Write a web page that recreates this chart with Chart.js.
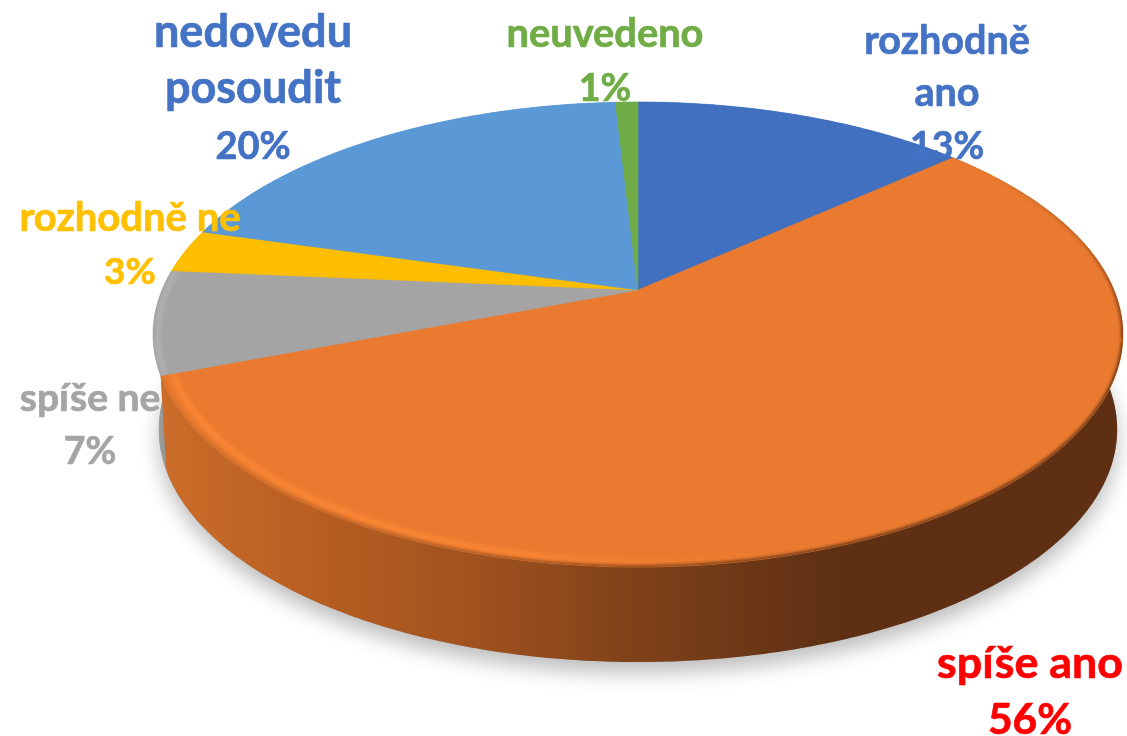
<!DOCTYPE html>
<html>
<head>
<meta charset="utf-8">
<style>html,body{margin:0;padding:0;background:#fff;overflow:hidden}canvas{display:block}</style>
<script src="https://cdn.jsdelivr.net/npm/chart.js@4"></script>
</head>
<body>
<canvas id="c" width="1127" height="736"></canvas>
<script>
const categories = ["rozhodně ano", "spíše ano", "spíše ne", "rozhodně ne", "nedovedu posoudit", "neuvedeno"];
const shares = [13.4, 55.8, 7.2, 3.0, 19.7, 0.9];
const sliceColors = ["#4170c0", "#ea7a2f", "#a4a4a4", "#fdbe00", "#5a99d5", "#6fab46"];

// label layout: wrapped lines, centre x, first baseline, line step, font sizes, colour
const labelLayout = [
  {lines:["rozhodně","ano"], x:947, y:53.5, step:52.5, size:39.6, pct:37.5, color:"#4472c4"},
  {lines:["spíše ano"], x:1030, y:678, step:56, size:44.8, pct:42.5, color:"#ff0000"},
  {lines:["spíše ne"], x:90, y:410.5, step:53, size:39, pct:37.5, color:"#a5a5a5"},
  {lines:["rozhodně ne"], x:130, y:231, step:53, size:40, pct:37, color:"#ffc000"},
  {lines:["nedovedu","posoudit"], x:253, y:47, step:56, size:45, pct:38, color:"#4472c4"},
  {lines:["neuvedeno"], x:605, y:47, step:53.5, size:39.8, pct:37.5, color:"#70ad47"}
];

// perspective disc geometry
const geo = {ax:638, ay:290, A:476, B:224, p:0.1914, depth:95, shrink:0.988, ecy:335};
function project(angle){
  const t = angle + Math.PI/2, u = Math.sin(t), v = -Math.cos(t), w = 1 - geo.p*v;
  return {x:geo.ax + geo.A*u/w, y:geo.ay + geo.B*v/w};
}
function rimPoints(a0, a1){
  const n = Math.max(4, Math.ceil((a1-a0)/(Math.PI/360))), pts = [];
  for(let i=0;i<=n;i++) pts.push(project(a0+(a1-a0)*i/n));
  return pts;
}
const down = p => ({x:geo.ax+(p.x-geo.ax)*geo.shrink, y:p.y+geo.depth});
const inset = (p,k) => ({x:geo.ax+(p.x-geo.ax)*k, y:geo.ecy+(p.y-geo.ecy)*k});
function trace(ctx, pts, move=true){
  pts.forEach((p,i)=> (i===0&&move) ? ctx.moveTo(p.x,p.y) : ctx.lineTo(p.x,p.y));
}
function wallGradient(ctx, stops){
  const g = ctx.createLinearGradient(0,0,1127,0);
  stops.forEach(s=>g.addColorStop(s[0]/1127,s[1]));
  return g;
}

const perspectivePie = {
  id:"perspectivePie",
  beforeDatasetsDraw(chart){
    const ctx = chart.ctx, arcs = chart.getDatasetMeta(0).data;
    const rims = arcs.map(a=>rimPoints(a.startAngle,a.endAngle));
    const colors = arcs.map(a=>a.options.backgroundColor);

    // soft ground shadow under the silhouette
    ctx.save();
    ctx.shadowColor = "rgba(0,0,0,0.26)";
    ctx.shadowBlur = 20;
    ctx.shadowOffsetY = 11;
    ctx.fillStyle = "#999";
    ctx.beginPath();
    trace(ctx, rimPoints(-Math.PI/2, 1.5*Math.PI).map(down));
    ctx.closePath();
    ctx.fill();
    ctx.restore();

    // side walls: back ones first, the big near slice last
    const order = [0,3,4,5,2,1];
    order.forEach(i=>{
      const pts = rims[i];
      ctx.beginPath();
      trace(ctx, pts);
      trace(ctx, pts.slice().reverse().map(down), false);
      ctx.closePath();
      ctx.fillStyle = i===1
        ? wallGradient(ctx,[[160,"#cb6d2a"],[300,"#ba6022"],[480,"#9f511e"],[620,"#82431a"],[760,"#6a3616"],[840,"#5e2f13"],[1127,"#5e2f13"]])
        : i===2 ? wallGradient(ctx,[[150,"#a8a8a8"],[172,"#8c8c8c"]]) : colors[i];
      ctx.fill();
    });

    // top faces
    arcs.forEach((a,i)=>{
      ctx.beginPath();
      ctx.moveTo(geo.ax,geo.ay);
      trace(ctx, rims[i], false);
      ctx.closePath();
      ctx.fillStyle = colors[i];
      ctx.strokeStyle = colors[i];
      ctx.lineWidth = 0.6;
      ctx.fill();
      ctx.stroke();
    });

    // rim bevel on the near side
    const clipFace = i=>{
      ctx.beginPath();
      ctx.moveTo(geo.ax,geo.ay);
      trace(ctx, rims[i], false);
      ctx.closePath();
      ctx.clip();
    };
    ctx.save();
    clipFace(1);
    ctx.filter = "blur(2.4px)";
    ctx.beginPath();
    trace(ctx, rims[1].map(p=>inset(p,0.974)));
    ctx.strokeStyle = wallGradient(ctx,[[150,"rgba(255,140,55,1)"],[520,"rgba(255,138,54,1)"],[700,"rgba(245,130,50,.6)"],[800,"rgba(234,122,47,0)"],[1127,"rgba(234,122,47,0)"]]);
    ctx.lineWidth = 4.5;
    ctx.stroke();
    // the bevel melts into the wall colour just inside the near rim
    ctx.filter = "blur(1.8px)";
    const upper = rims[1].filter(p=>p.y<=340 && p.x>638);
    const lower = rims[1].filter(p=>p.y>=340 || p.x<638);
    ctx.beginPath();
    trace(ctx, lower);
    ctx.strokeStyle = wallGradient(ctx,[[160,"rgba(203,109,42,.55)"],[600,"rgba(130,67,26,.8)"],[800,"rgba(94,47,19,.85)"],[1127,"rgba(94,47,19,.85)"]]);
    ctx.lineWidth = 4;
    ctx.stroke();
    const fade = ctx.createLinearGradient(0,170,0,340);
    fade.addColorStop(0,"rgba(94,47,19,0)");
    fade.addColorStop(0.35,"rgba(94,47,19,.25)");
    fade.addColorStop(1,"rgba(94,47,19,.85)");
    ctx.beginPath();
    trace(ctx, upper);
    ctx.strokeStyle = fade;
    ctx.lineWidth = 4;
    ctx.stroke();
    ctx.restore();

    ctx.save();
    clipFace(2);
    ctx.filter = "blur(2px)";
    ctx.beginPath();
    trace(ctx, rims[2].map(p=>inset(p,0.99)));
    ctx.strokeStyle = "#b2b2b2";
    ctx.lineWidth = 5;
    ctx.stroke();
    ctx.restore();

    return false;
  },
  afterDraw(chart){
    const ctx = chart.ctx;
    ctx.save();
    ctx.textAlign = "center";
    ctx.textBaseline = "alphabetic";
    ctx.lineJoin = "round";
    ctx.lineWidth = 0.7;
    labelLayout.forEach((l,i)=>{
      ctx.fillStyle = l.color;
      ctx.strokeStyle = l.color;
      l.lines.concat([Math.round(shares[i])+"%"]).forEach((t,j)=>{
        const size = j===l.lines.length ? l.pct : l.size;
        ctx.font = "bold "+size+"px Lato, Carlito, sans-serif";
        ctx.fillText(t,l.x,l.y+j*l.step);
        ctx.strokeText(t,l.x,l.y+j*l.step);
      });
    });
    ctx.restore();
  }
};

new Chart(document.getElementById("c"),{
  type:"pie",
  data:{labels:categories,datasets:[{data:shares,backgroundColor:sliceColors,borderWidth:0}]},
  options:{
    responsive:false,
    animation:false,
    layout:{padding:0},
    plugins:{legend:{display:false},tooltip:{enabled:false}}
  },
  plugins:[perspectivePie]
});
</script>
</body>
</html>
